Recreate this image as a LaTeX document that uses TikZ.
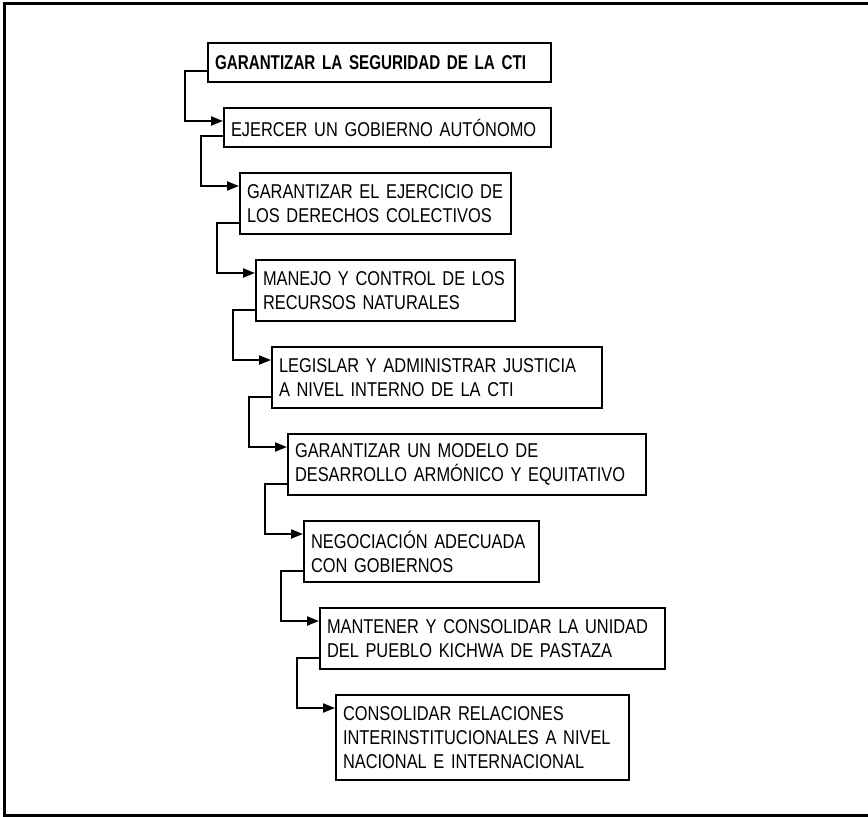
\documentclass[tikz,border=0pt]{standalone}
\usepackage{fontspec}
\setmainfont{Liberation Sans}[FakeStretch=0.82, BoldFeatures={FakeStretch=0.76}]
\usepackage{tikz}
\usetikzlibrary{arrows.meta,positioning}

\begin{document}
\begin{tikzpicture}[
  blk/.style={draw, line width=1pt, align=left, inner xsep=3.5pt, inner ysep=0pt, minimum height=19.5pt, font=\fontsize{10}{12}\selectfont},
  two/.style={blk, minimum height=30.5pt},
  three/.style={blk, minimum height=42.5pt},
  arr/.style={-{Triangle[length=6pt,width=4.5pt]}, line width=1pt},
  node distance=12pt and 8pt
]
\useasboundingbox (0,0) rectangle (434pt,-408pt);
\draw[line width=1.5pt] (2pt,-1.75pt) rectangle (440pt,-407.5pt);

\node[blk, text width=164.5pt, anchor=north west] (seg) at (103.5pt,-21pt) {\textbf{GARANTIZAR LA SEGURIDAD DE LA CTI}};
\node[blk, text width=156.5pt, below right=of seg.south west] (gob) {EJERCER UN GOBIERNO AUTÓNOMO};
\node[two, text width=128.5pt, below right=of gob.south west] (der) {GARANTIZAR EL EJERCICIO DE\\LOS DERECHOS COLECTIVOS};
\node[two, text width=122.5pt, below right=of der.south west] (rec) {MANEJO Y CONTROL DE LOS\\RECURSOS NATURALES};
\node[two, text width=158pt, below right=of rec.south west] (jus) {LEGISLAR Y ADMINISTRAR JUSTICIA\\A NIVEL INTERNO DE LA CTI};
\node[two, text width=172pt, below right=of jus.south west] (des) {GARANTIZAR UN MODELO DE\\DESARROLLO ARMÓNICO Y EQUITATIVO};
\node[two, text width=110.5pt, below right=of des.south west] (neg) {NEGOCIACIÓN ADECUADA\\CON GOBIERNOS};
\node[two, text width=165.5pt, below right=of neg.south west] (uni) {MANTENER Y CONSOLIDAR LA UNIDAD\\DEL PUEBLO KICHWA DE PASTAZA};
\node[three, text width=139.5pt, below right=of uni.south west] (rel) {CONSOLIDAR RELACIONES\\INTERINSTITUCIONALES A NIVEL\\NACIONAL E INTERNACIONAL};

\draw[arr] ([yshift=6pt]seg.south west) -- ++(-11pt,0) |- ([yshift=-7pt]gob.north west);
\draw[arr] ([yshift=6pt]gob.south west) -- ++(-11pt,0) |- ([yshift=-7pt]der.north west);
\draw[arr] ([yshift=6pt]der.south west) -- ++(-11pt,0) |- ([yshift=-7pt]rec.north west);
\draw[arr] ([yshift=6pt]rec.south west) -- ++(-11pt,0) |- ([yshift=-7pt]jus.north west);
\draw[arr] ([yshift=6pt]jus.south west) -- ++(-11pt,0) |- ([yshift=-7pt]des.north west);
\draw[arr] ([yshift=6pt]des.south west) -- ++(-11pt,0) |- ([yshift=-7pt]neg.north west);
\draw[arr] ([yshift=6pt]neg.south west) -- ++(-11pt,0) |- ([yshift=-7pt]uni.north west);
\draw[arr] ([yshift=6pt]uni.south west) -- ++(-11pt,0) |- ([yshift=-7pt]rel.north west);
\end{tikzpicture}
\end{document}
